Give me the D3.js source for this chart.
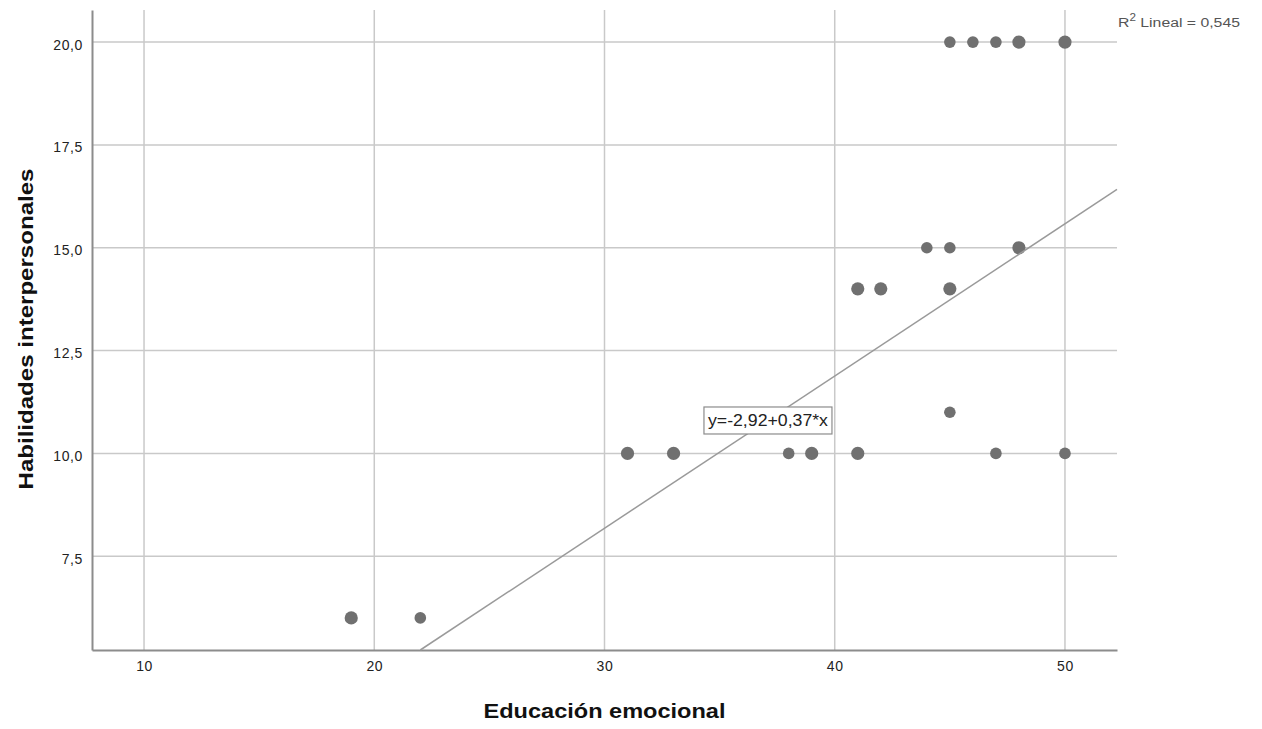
<!DOCTYPE html>
<html>
<head>
<meta charset="utf-8">
<script src="https://cdn.jsdelivr.net/npm/d3@7"></script>
<style>
  body { margin: 0; background: #fff; }
  svg { font-family: "Liberation Sans", Arial, sans-serif; }
</style>
</head>
<body>
<svg id="chart" width="1262" height="729"></svg>
<script>
// data
const educacion = [19, 22, 31, 33, 38, 39, 41, 47, 50, 45, 41, 42, 45, 44, 45, 48, 45, 46, 47, 48, 50];
const habilidades = [6, 6, 10, 10, 10, 10, 10, 10, 10, 11, 14, 14, 14, 15, 15, 15, 20, 20, 20, 20, 20];
// points that look heavier in the picture (overlapping cases)
const repeticiones = [2, 1, 2, 2, 1, 2, 2, 1, 1, 1, 2, 2, 2, 1, 1, 2, 1, 1, 1, 2, 2];
const xTicks = [10, 20, 30, 40, 50];
const yTicks = [7.5, 10, 12.5, 15, 17.5, 20];
const intercepto = -2.92;
const pendiente = 0.37;
const r2 = "0,545";

const svg = d3.select("#chart");
const mLeft = 92, mRight = 1117, mTop = 10, mBottom = 650;

const x = d3.scaleLinear().domain([7.74, 52.26]).range([mLeft, mRight]);
const y = d3.scaleLinear().domain([5.22, 20.78]).range([mBottom, mTop]);
const fmt = v => d3.format(".1f")(v).replace(".", ",");

// grid lines
svg.append("g").selectAll("line").data(xTicks).enter().append("line")
  .attr("x1", d => x(d)).attr("x2", d => x(d))
  .attr("y1", mTop).attr("y2", mBottom)
  .attr("stroke", "#c9c9c9").attr("stroke-width", 1.5);
svg.append("g").selectAll("line").data(yTicks).enter().append("line")
  .attr("x1", mLeft).attr("x2", mRight)
  .attr("y1", d => y(d)).attr("y2", d => y(d))
  .attr("stroke", "#c9c9c9").attr("stroke-width", 1.5);

// axes
const xAxis = svg.append("g")
  .attr("transform", "translate(0," + mBottom + ")")
  .call(d3.axisBottom(x).tickValues(xTicks).tickSize(0).tickPadding(11).tickFormat(d3.format("d")));
const yAxis = svg.append("g")
  .attr("transform", "translate(" + mLeft + ",0)")
  .call(d3.axisLeft(y).tickValues(yTicks).tickSize(0).tickPadding(9).tickFormat(fmt));
[xAxis, yAxis].forEach(a => {
  a.select(".domain").attr("stroke", "#8c8c8c").attr("stroke-width", 2);
  a.selectAll("text").attr("font-size", 14).attr("fill", "#222")
    .attr("letter-spacing", 0.6)
    .attr("font-family", "Liberation Sans, Arial, sans-serif");
});
yAxis.selectAll("text").attr("dy", "0.5em");

// points
svg.append("g").selectAll("circle")
  .data(educacion.map((d, i) => ({ x: d, y: habilidades[i], n: repeticiones[i] })))
  .enter().append("circle")
  .attr("cx", d => x(d.x))
  .attr("cy", d => y(d.y))
  .attr("r", d => d.n > 1 ? 6.6 : 5.8)
  .attr("fill", "#707070");

// fit line, clipped to the plot area
const x0 = Math.max(x.domain()[0], (y.domain()[0] - intercepto) / pendiente);
const x1 = x.domain()[1];
svg.append("line")
  .attr("x1", x(x0)).attr("y1", y(intercepto + pendiente * x0))
  .attr("x2", x(x1)).attr("y2", y(intercepto + pendiente * x1))
  .attr("stroke", "#9a9a9a").attr("stroke-width", 1.5);

// equation label
const eq = svg.append("g").attr("transform", "translate(" + x(37.1) + "," + y(10.8) + ")");
eq.append("rect")
  .attr("x", -64).attr("y", -13.5).attr("width", 128).attr("height", 27)
  .attr("fill", "#fff").attr("stroke", "#8c8c8c").attr("stroke-width", 1.2);
eq.append("text")
  .attr("text-anchor", "middle").attr("dy", "0.36em")
  .attr("font-size", 16).attr("fill", "#222")
  .attr("textLength", 120).attr("lengthAdjust", "spacingAndGlyphs")
  .text("y=-2,92+0,37*x");

// R2 label, stretched to the width seen in the picture
const r2G = svg.append("g").attr("transform", "translate(" + (mRight + 1) + ",27)");
const r2Text = r2G.append("text").attr("font-size", 13.5).attr("fill", "#555");
r2Text.append("tspan").text("R");
r2Text.append("tspan").attr("font-size", 10).attr("dy", -6).text("2");
r2Text.append("tspan").attr("dy", 6).text(" Lineal = " + r2);
const rw = r2Text.node().getBBox().width;
r2Text.attr("transform", "scale(" + (122 / rw) + ",1)");

// axis titles
svg.append("text")
  .attr("x", (mLeft + mRight) / 2).attr("y", 718)
  .attr("text-anchor", "middle")
  .attr("font-size", 21).attr("font-weight", "bold").attr("fill", "#111")
  .attr("textLength", 242).attr("lengthAdjust", "spacingAndGlyphs")
  .text("Educación emocional");
svg.append("text")
  .attr("transform", "translate(33,329) rotate(-90)")
  .attr("text-anchor", "middle")
  .attr("font-size", 21).attr("font-weight", "bold").attr("fill", "#111")
  .attr("textLength", 321).attr("lengthAdjust", "spacingAndGlyphs")
  .text("Habilidades interpersonales");
</script>
</body>
</html>
